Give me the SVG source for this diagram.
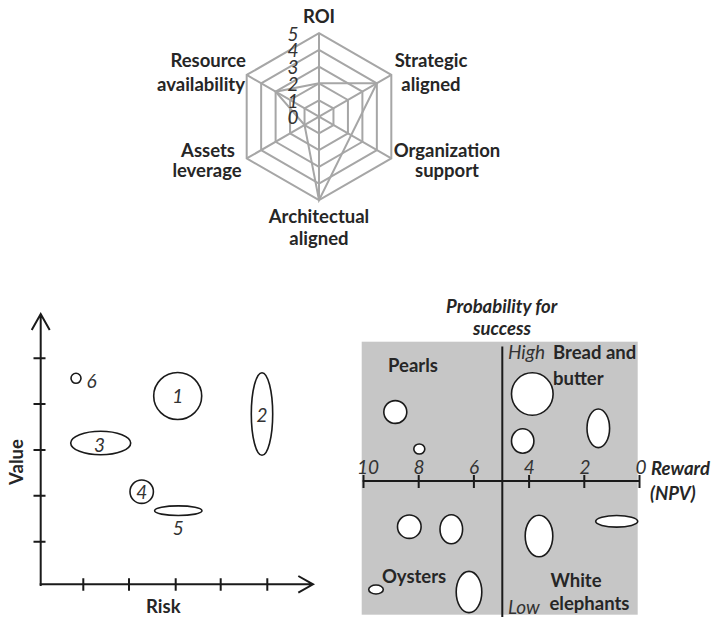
<svg xmlns="http://www.w3.org/2000/svg" width="718" height="617" viewBox="0 0 718 617">
  <style>
    .lbl { font-family: Lato, "Noto Sans", "Liberation Sans", sans-serif; font-weight: bold; font-size: 18.5px; fill: #262626; }
    .lbi { font-family: Lato, "Noto Sans", "Liberation Sans", sans-serif; font-weight: bold; font-style: italic; font-size: 18.5px; fill: #262626; }
    .num { font-family: Lato, "Noto Sans", "Liberation Sans", sans-serif; font-style: italic; font-size: 19px; fill: #333333; }
    .grid { fill: none; stroke: #a6a6a6; stroke-width: 2; }
    .data { fill: none; stroke: #a6a6a6; stroke-width: 2; stroke-linejoin: miter; }
    .axis { fill: none; stroke: #1a1a1a; stroke-width: 2; }
    .bub { fill: none; stroke: #1a1a1a; stroke-width: 1.6; }
    .wbub { fill: #ffffff; stroke: #1a1a1a; stroke-width: 1.6; }
  </style>

  <!-- Radar chart: six criteria, scale 0-5 -->
  <g id="radar">
    <g id="radar-grid" class="grid">
      <polygon points="319,100.35 333.46,108.35 333.46,125.05 319,133.4 304.54,125.05 304.54,108.35"/>
      <polygon points="319,83.3 347.93,100 347.93,133.4 319,150.1 290.07,133.4 290.07,100"/>
      <polygon points="319,66.6 362.39,91.65 362.39,141.75 319,166.8 275.61,141.75 275.61,91.65"/>
      <polygon points="319,49.9 376.85,83.3 376.85,150.1 319,183.5 261.15,150.1 261.15,83.3"/>
      <polygon points="319,33.2 391.31,74.95 391.31,158.45 319,200.2 246.69,158.45 246.69,74.95"/>
      <path d="M319,116.7 L319,33.2 M319,116.7 L391.31,74.95 M319,116.7 L391.31,158.45 M319,116.7 L319,200.2 M319,116.7 L246.69,158.45 M319,116.7 L246.69,74.95"/>
    </g>
    <polygon id="radar-series" class="data" points="319,83.3 376.85,83.3 351.1,135.25 319,200.2 304.54,125.05 275.61,91.65"/>
    <g id="radar-scale" class="num" text-anchor="middle">
      <text x="293" y="40.5">5</text>
      <text x="293" y="57.3">4</text>
      <text x="293" y="74">3</text>
      <text x="293" y="90.7">2</text>
      <text x="293" y="107.5">1</text>
      <text x="293" y="124.2">0</text>
    </g>
    <g id="axis-roi"><text class="lbl" x="319" y="23" text-anchor="middle">ROI</text></g>
    <g id="axis-strategic" class="lbl" text-anchor="middle">
      <text x="431" y="67">Strategic</text>
      <text x="431" y="90.5">aligned</text>
    </g>
    <g id="axis-organization" class="lbl" text-anchor="middle">
      <text x="447" y="156.5">Organization</text>
      <text x="447" y="177">support</text>
    </g>
    <g id="axis-architectual" class="lbl" text-anchor="middle">
      <text x="319" y="223">Architectual</text>
      <text x="319" y="245">aligned</text>
    </g>
    <g id="axis-assets" class="lbl" text-anchor="middle">
      <text x="208" y="156.5">Assets</text>
      <text x="207" y="177">leverage</text>
    </g>
    <g id="axis-resource" class="lbl" text-anchor="end">
      <text x="246" y="67">Resource</text>
      <text x="245" y="90.5">availability</text>
    </g>
  </g>

  <!-- Value / risk bubble chart -->
  <g id="value-risk">
    <g id="value-risk-axes" class="axis">
      <path d="M40.7,586 L40.7,314 M31.7,330 L40.7,314 L49.7,330"/>
      <path d="M39.7,584.3 L313,584.3 M298.3,576 L313,584.3 L298.3,592.6"/>
      <path d="M33.5,358.3 H45.5 M33.5,404.1 H45.5 M33.5,450 H45.5 M33.5,495.8 H45.5 M33.5,541.7 H45.5"/>
      <path d="M83.3,578.3 V590.7 M129,578.3 V590.7 M175.7,578.3 V590.7 M220.7,578.3 V590.7 M267.3,578.3 V590.7"/>
    </g>
    <text class="lbl" x="163.3" y="613" text-anchor="middle">Risk</text>
    <text class="lbl" transform="translate(23,462) rotate(-90)" text-anchor="middle">Value</text>
    <g id="bubble-1"><ellipse class="bub" cx="177.7" cy="396" rx="24" ry="23.5"/><text class="num" x="177.7" y="402.5" text-anchor="middle">1</text></g>
    <g id="bubble-2"><ellipse class="bub" cx="262" cy="414" rx="10.7" ry="41.3"/><text class="num" x="262" y="421.5" text-anchor="middle">2</text></g>
    <g id="bubble-3"><ellipse class="bub" cx="100.7" cy="443" rx="30" ry="11.8"/><text class="num" x="99.5" y="451.5" text-anchor="middle">3</text></g>
    <g id="bubble-4"><ellipse class="bub" cx="141.7" cy="491.7" rx="11.7" ry="11.7"/><text class="num" x="141.7" y="498.8" text-anchor="middle">4</text></g>
    <g id="bubble-5"><ellipse class="bub" cx="178.3" cy="510.7" rx="23.7" ry="4.8"/><text class="num" x="178.3" y="535" text-anchor="middle">5</text></g>
    <g id="bubble-6"><ellipse class="bub" cx="76" cy="378.3" rx="5" ry="5"/><text class="num" x="91.5" y="388.3" text-anchor="middle">6</text></g>
  </g>

  <!-- Reward / probability portfolio matrix -->
  <g id="portfolio">
    <rect x="361.7" y="341.7" width="276" height="273" fill="#c6c6c6"/>
    <g id="portfolio-axes" class="axis">
      <path d="M502.3,346.5 V617"/>
      <path d="M362.7,481 H639.5"/>
      <path d="M363.5,475 V488 M418.7,475 V488 M473.9,475 V488 M529.1,475 V488 M584.3,475 V488 M639.5,475 V488"/>
    </g>
    <g id="reward-scale" class="num" text-anchor="middle">
      <text x="368" y="474">10</text>
      <text x="419" y="474">8</text>
      <text x="474" y="474">6</text>
      <text x="529.3" y="474">4</text>
      <text x="585" y="474">2</text>
      <text x="641" y="474">0</text>
    </g>
    <g id="reward-title" class="lbi">
      <text x="651" y="475">Reward</text>
      <text x="650" y="500">(NPV)</text>
    </g>
    <g id="probability-title" class="lbi" text-anchor="middle">
      <text x="501.7" y="313.3">Probability for</text>
      <text x="502" y="335">success</text>
    </g>
    <text class="num" x="508" y="359">High</text>
    <text class="num" x="508" y="613.5">Low</text>
    <g id="quadrant-pearls">
      <text class="lbl" x="388" y="371.5">Pearls</text>
      <ellipse class="wbub" cx="395.3" cy="412" rx="11.5" ry="11.4"/>
      <ellipse class="wbub" cx="419.3" cy="449" rx="5.5" ry="5"/>
    </g>
    <g id="quadrant-bread-and-butter">
      <text class="lbl" x="553" y="359">Bread and</text>
      <text class="lbl" x="553" y="385">butter</text>
      <ellipse class="wbub" cx="532.3" cy="394" rx="20.8" ry="21.3"/>
      <ellipse class="wbub" cx="522.7" cy="441" rx="11.2" ry="12.2"/>
      <ellipse class="wbub" cx="598.3" cy="428.3" rx="11.3" ry="19.3"/>
    </g>
    <g id="quadrant-oysters">
      <text class="lbl" x="382" y="582.5">Oysters</text>
      <ellipse class="wbub" cx="409.3" cy="526.7" rx="11.8" ry="11.7"/>
      <ellipse class="wbub" cx="451.3" cy="529.3" rx="11.3" ry="14.5"/>
      <ellipse class="wbub" cx="376" cy="589.5" rx="7.3" ry="4.5"/>
      <ellipse class="wbub" cx="469" cy="592" rx="12.8" ry="20.6"/>
    </g>
    <g id="quadrant-white-elephants">
      <text class="lbl" x="576" y="586.5" text-anchor="middle">White</text>
      <text class="lbl" x="589.5" y="610" text-anchor="middle">elephants</text>
      <ellipse class="wbub" cx="539" cy="536" rx="13.8" ry="20.8"/>
      <ellipse class="wbub" cx="616.7" cy="521.3" rx="21" ry="5.8"/>
    </g>
  </g>
</svg>
